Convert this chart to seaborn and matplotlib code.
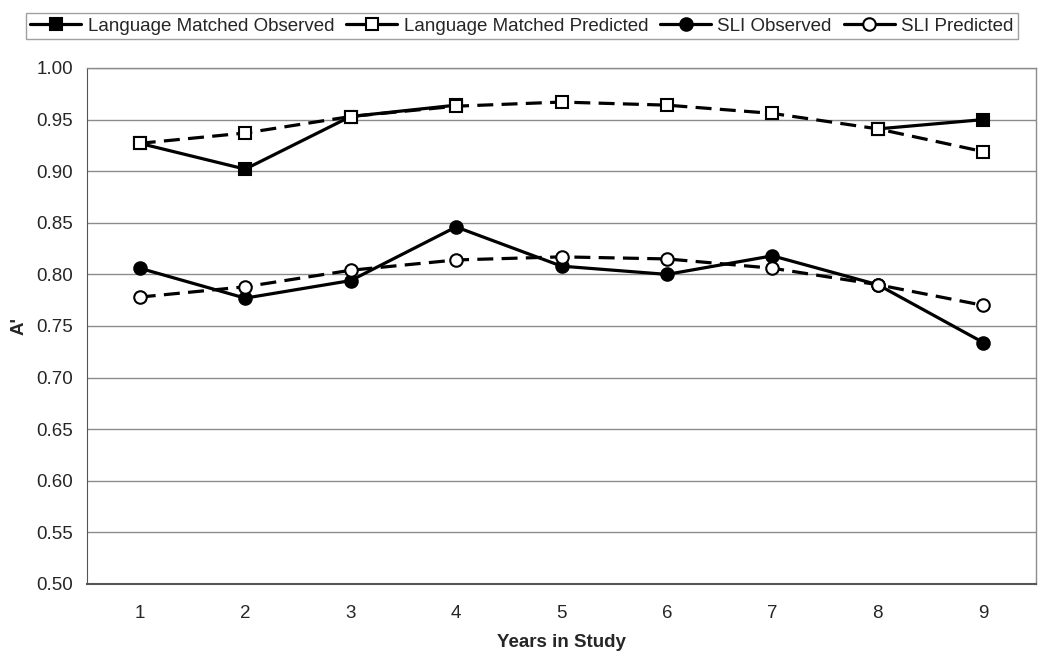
import numpy as np
import pandas as pd
import matplotlib
matplotlib.use("Agg")
import matplotlib.pyplot as plt
from matplotlib.lines import Line2D
import seaborn as sns

sns.set_style("white")
plt.rcParams['font.family'] = ['Liberation Sans', 'DejaVu Sans']

# Data
years = [1, 2, 3, 4, 5, 6, 7, 8, 9]
lm_observed = [0.927, 0.902, 0.953, 0.964, np.nan, np.nan, np.nan, 0.941, 0.950]
lm_predicted = [0.927, 0.937, 0.953, 0.963, 0.967, 0.964, 0.956, 0.941, 0.919]
sli_observed = [0.806, 0.777, 0.794, 0.846, 0.808, 0.800, 0.818, 0.790, 0.734]
sli_predicted = [0.778, 0.788, 0.804, 0.814, 0.817, 0.815, 0.806, 0.790, 0.770]

series = [
    ("Language Matched Observed", lm_observed, "s", "black", "-"),
    ("Language Matched Predicted", lm_predicted, "s", "white", (0, (5, 2.6))),
    ("SLI Observed", sli_observed, "o", "black", "-"),
    ("SLI Predicted", sli_predicted, "o", "white", (0, (5, 2.6))),
]

fig = plt.figure(figsize=(10.5, 6.62), dpi=100)
ax = fig.add_axes([87 / 1050, 1 - 584 / 662, 949 / 1050, 516 / 662])

lw = 2.3
ms = 9
order = [0, 2, 1, 3]  # observed first, predicted on top
for i in order:
    name, vals, marker, face, ls = series[i]
    df = pd.DataFrame({"year": years, "value": vals})
    # split at missing values so the line breaks there
    df["seg"] = df["value"].isna().cumsum()
    df = df.dropna()
    for _, part in df.groupby("seg"):
        sns.lineplot(data=part, x="year", y="value", ax=ax, color="black",
                     linewidth=lw, linestyle=ls, marker=marker, markersize=ms,
                     markerfacecolor=face, markeredgecolor="black",
                     markeredgewidth=1.5, estimator=None, sort=False,
                     legend=False, zorder=3 + i)

ax.set_xlim(0.5, 9.5)
ax.set_ylim(0.5, 1.0)
ax.set_yticks(np.arange(0.50, 1.001, 0.05))
ax.set_yticklabels([f"{v:.2f}" for v in np.arange(0.50, 1.001, 0.05)])
ax.set_xticks(np.arange(0.5, 9.6, 1.0))
ax.set_xticklabels([])
ax.set_xticks(years, minor=True)
ax.set_xticklabels([str(y) for y in years], minor=True)
ax.tick_params(axis="x", which="major", direction="out", length=6, color="#555555", width=1)
ax.tick_params(axis="x", which="minor", length=0, pad=15, labelsize=13.5)
ax.tick_params(axis="y", direction="out", length=6, color="#555555", width=1, labelsize=13.5, pad=4)

ax.yaxis.grid(True, color="#8c8c8c", linewidth=1)
ax.xaxis.grid(False)
ax.set_axisbelow(True)
for side in ["top", "right"]:
    ax.spines[side].set_color("#8c8c8c")
    ax.spines[side].set_linewidth(1)
ax.spines["left"].set_color("#555555")
ax.spines["bottom"].set_color("#555555")
ax.spines["bottom"].set_linewidth(1.5)

ax.set_xlabel("Years in Study", fontsize=13.5, fontweight="bold", labelpad=9)
ax.set_ylabel("A'", fontsize=13.5, fontweight="bold", labelpad=6)

handles = []
for name, vals, marker, face, ls in series:
    handles.append(Line2D([0], [0], color="black", linewidth=lw, linestyle="-",
                          marker=marker, markersize=ms, markerfacecolor=face,
                          markeredgecolor="black", markeredgewidth=1.5, label=name))
leg = fig.legend(handles=handles, loc="center", ncol=4,
                 bbox_to_anchor=(522 / 1050, 1 - 26 / 662), fontsize=13.5,
                 frameon=True, fancybox=False, edgecolor="#888888",
                 handlelength=2.7, handletextpad=0.35, columnspacing=0.65,
                 borderpad=0.25, borderaxespad=0)
leg.get_frame().set_linewidth(1)

fig.savefig("out.png", dpi=100, facecolor="white")
